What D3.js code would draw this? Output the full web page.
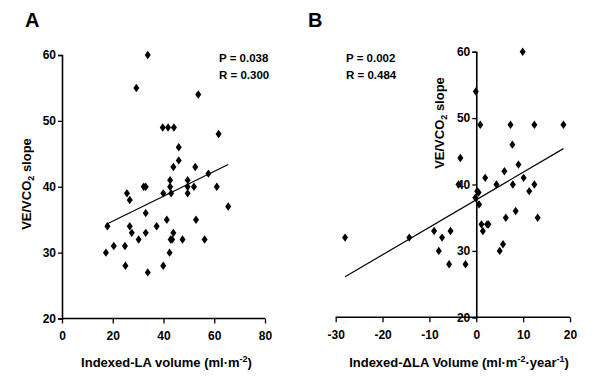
<!DOCTYPE html>
<html>
<head>
  <meta charset="utf-8">
  <script src="https://d3js.org/d3.v7.min.js"></script>
  <style>
    body { margin: 0; background: #fff; }
    text { font-family: "Liberation Sans", Arial, sans-serif; font-weight: bold; fill: #000; }
    .tick-label { font-size: 12px; }
    .axis-title { font-size: 13px; }
    .stat { font-size: 11.5px; }
    .panel-letter { font-size: 20px; }
  </style>
</head>
<body>
  <svg id="chart" width="600" height="382"></svg>
  <script>
    // panel A: indexed LA volume vs VE/VCO2 slope
    const laVolume = [33.8, 29.3, 39.7, 41.8, 44.1, 53.7, 61.7, 46, 46, 43.9, 52.5, 57.7, 42.6, 49.5,
      42.6, 49.5, 52, 32.2, 33, 61, 25.6, 39.9, 43, 49.5, 26.7, 65.5, 17.9, 33, 26.7, 27.5, 33, 30.2,
      37.3, 41.3, 43.9, 42.8, 43.4, 47.5, 56.2, 52.8, 17.3, 20.4, 24.8, 25, 33.8, 39.9, 42.4];
    const slopeA = [60, 55, 49, 49, 49, 54, 48, 46, 44, 43, 43, 42, 41, 41,
      40, 40, 40, 40, 40, 40, 39, 39, 39, 39, 38, 37, 34, 36, 34, 33, 33, 32,
      34, 35, 33, 32, 32, 32, 32, 35, 30, 31, 31, 28, 27, 28, 30];
    const fitA = { intercept: 31.0, slope: 0.189 };
    const statsA = ["P = 0.038", "R = 0.300"];

    // panel B: indexed delta LA volume vs VE/VCO2 slope
    const deltaLa = [9.9, -0.1, 0.85, 7.3, 12.4, 18.6, -3.4, 7.7, 9, 1.9, 6, 10.1, 4.3, 7.8, 12.4, 11.3,
      -3.8, 0.2, 0.5, -0.2, 0.6, -28, -14.3, -9, -7.3, -8, -5.5, -5.8, -2.3, 1.1, 2.3, 2.6, 1.4,
      6.3, 8.4, 13.1, 5, 5.7];
    const slopeB = [60, 54, 49, 49, 49, 49, 44, 46, 43, 41, 42, 41, 40, 40, 40, 39,
      40, 39, 38.8, 38, 37, 32, 32, 33, 32, 30, 33, 28, 28, 34, 34, 34, 33,
      35, 36, 35, 30, 31];
    const fitB = { intercept: 37.7, slope: 0.414 };
    const statsB = ["P = 0.002", "R = 0.484"];

    const yTicks = [20, 30, 40, 50, 60];
    const xTicksA = [0, 20, 40, 60, 80];
    const xTicksB = [-30, -20, -10, 0, 10, 20];

    const svg = d3.select("#chart");
    const diamond = "M0,-4.2L3,0L0,4.2L-3,0Z";
    const plain = d => String(d);   // hyphen minus, like the original

    function yTitle(g, x, y) {
      const t = g.append("text").attr("class", "axis-title")
        .attr("transform", "translate(" + x + "," + y + ") rotate(-90)")
        .attr("text-anchor", "middle");
      t.append("tspan").text("VE/VCO");
      t.append("tspan").text("2").attr("font-size", "9px").attr("dy", 3);
      t.append("tspan").text(" slope").attr("dy", -3);
    }

    function drawPanel(opts) {
      const g = svg.append("g");
      const x = d3.scaleLinear().domain(opts.xDomain).range(opts.xRange);
      const y = d3.scaleLinear().domain([20, 60]).range(opts.yRange);

      // y axis
      g.append("g")
        .attr("transform", "translate(" + x(opts.yAxisAt) + ",0)")
        .call(d3.axisLeft(y).tickValues(yTicks).tickFormat(plain).tickSize(4).tickPadding(2))
        .call(a => a.select(".domain").attr("stroke-width", 1.6))
        .call(a => a.selectAll("line").attr("stroke-width", 1.3))
        .call(a => a.selectAll("text").attr("class", "tick-label").attr("font-size", null).attr("font-family", null));

      // x axis
      g.append("g")
        .attr("transform", "translate(0," + y(20) + ")")
        .call(d3.axisBottom(x).tickValues(opts.xTicks).tickFormat(plain).tickSize(5).tickPadding(8))
        .call(a => a.select(".domain").attr("d", "M" + x(opts.xDomain[0]) + ",0H" + x(opts.xDomain[1])).attr("stroke-width", 1.6))
        .call(a => a.selectAll("line").attr("stroke-width", 1.3))
        .call(a => a.selectAll("text").attr("class", "tick-label").attr("font-size", null).attr("font-family", null));

      // regression line over the data range
      const ext = d3.extent(opts.xs);
      g.append("line")
        .attr("x1", x(ext[0])).attr("y1", y(opts.fit.intercept + opts.fit.slope * ext[0]))
        .attr("x2", x(ext[1])).attr("y2", y(opts.fit.intercept + opts.fit.slope * ext[1]))
        .attr("stroke", "#000").attr("stroke-width", 1.2);

      g.selectAll("path.pt")
        .data(opts.xs.map((v, i) => [v, opts.ys[i]]))
        .join("path")
        .attr("class", "pt")
        .attr("d", diamond)
        .attr("transform", d => "translate(" + x(d[0]) + "," + y(d[1]) + ")")
        .attr("fill", "#000");

      g.selectAll("text.stat")
        .data(opts.stats)
        .join("text")
        .attr("class", "stat")
        .attr("x", opts.statX)
        .attr("y", (d, i) => 62 + i * 17)
        .text(d => d);

      g.append("text").attr("class", "panel-letter")
        .attr("x", opts.letterX).attr("y", 27).text(opts.letter);

      yTitle(g, opts.yTitleX, opts.yTitleY);
      return g;
    }

    const gA = drawPanel({
      xDomain: [0, 80], xRange: [62, 265], yRange: [318.5, 55], yAxisAt: 0,
      xTicks: xTicksA, xs: laVolume, ys: slopeA, fit: fitA, stats: statsA,
      statX: 219, letter: "A", letterX: 25, yTitleX: 31, yTitleY: 184
    });
    const tA = gA.append("text").attr("class", "axis-title")
      .attr("x", 166.5).attr("y", 367).attr("text-anchor", "middle");
    tA.append("tspan").text("Indexed-LA volume (ml\u00b7m");
    tA.append("tspan").text("-2").attr("font-size", "9px").attr("dy", -5);
    tA.append("tspan").text(")").attr("dy", 5);

    const gB = drawPanel({
      xDomain: [-30, 20], xRange: [335.7, 570], yRange: [317.3, 51.7], yAxisAt: 0,
      xTicks: xTicksB, xs: deltaLa, ys: slopeB, fit: fitB, stats: statsB,
      statX: 346, letter: "B", letterX: 308, yTitleX: 444, yTitleY: 123
    });
    const tB = gB.append("text").attr("class", "axis-title")
      .attr("x", 459).attr("y", 367).attr("text-anchor", "middle");
    tB.append("tspan").text("Indexed-\u0394LA Volume (ml\u00b7m");
    tB.append("tspan").text("-2").attr("font-size", "9px").attr("dy", -5);
    tB.append("tspan").text("\u00b7year").attr("dy", 5);
    tB.append("tspan").text("-1").attr("font-size", "9px").attr("dy", -5);
    tB.append("tspan").text(")").attr("dy", 5);
  </script>
</body>
</html>
